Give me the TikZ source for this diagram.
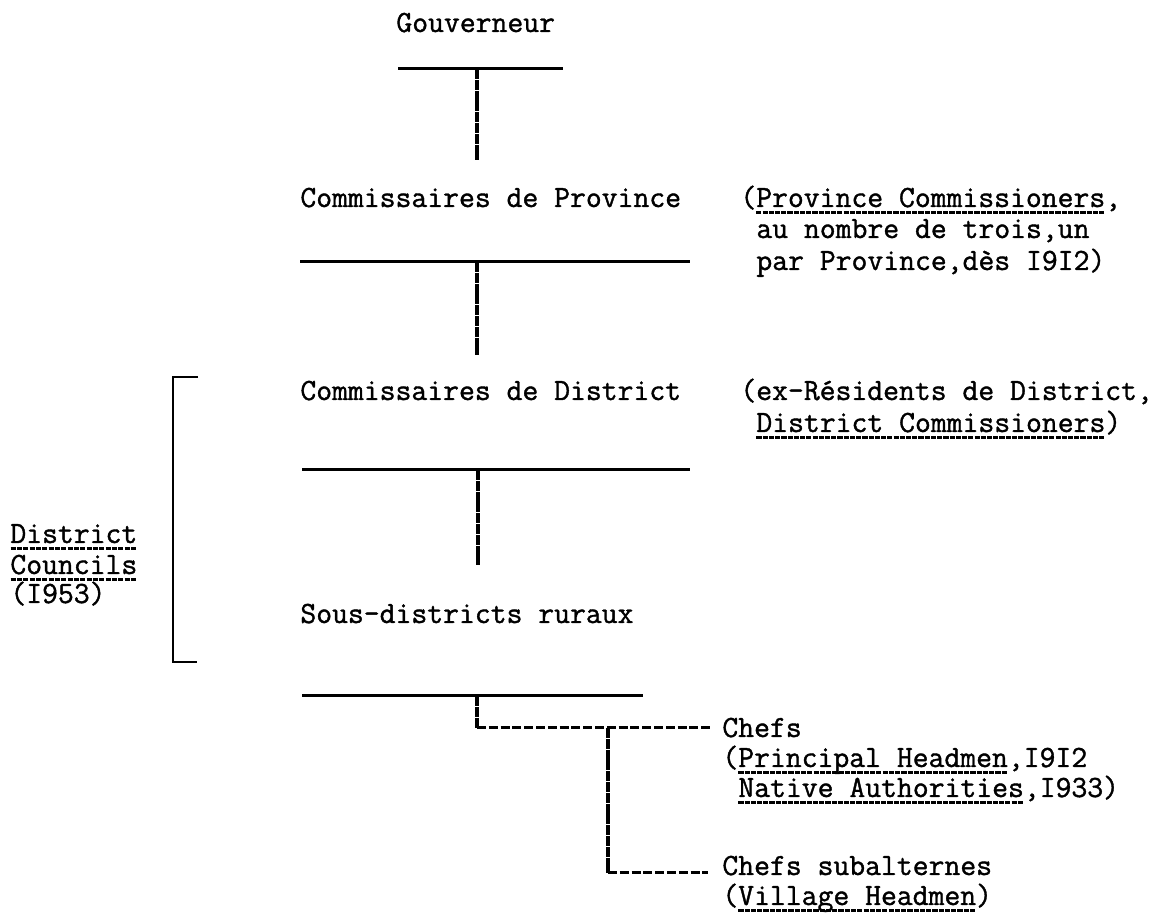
\documentclass[tikz,border=0pt]{standalone}
\usepackage{fontspec}
\setmonofont[FakeBold=1.2]{Latin Modern Mono}
\newsavebox\ulbox
\newcommand\dul[1]{\sbox\ulbox{#1}\rlap{\raisebox{-3.4pt}{\hbox to \wd\ulbox{\xleaders\hbox{\rule{2.6pt}{1.2pt}\kern0.5pt}\hfill}}}\usebox\ulbox}
\tikzset{
  lbl/.style={anchor=base west, inner sep=0pt, font=\fontsize{15.4}{18}\selectfont\ttfamily},
  bar/.style={line width=1.5pt},
  stem/.style={line width=1.7pt, dash pattern=on 5pt off 0.4pt},
  dsh/.style={line width=1.5pt, dash pattern=on 4.5pt off 1.4pt},
  brk/.style={line width=1.4pt},
}
\begin{document}
\begin{tikzpicture}[x=0.5pt,y=-0.5pt]
\useasboundingbox (0,0) rectangle (1175,924);
\fill[white] (0,0) rectangle (1175,924);

% main column
\node[lbl] (gouv) at (396,32) {Gouverneur};
\node[lbl] (prov) at (300,207) {Commissaires de Province};
\node[lbl] (dist) at (300,400) {Commissaires de District};
\node[lbl] (sous) at (300,623) {Sous-districts ruraux};

% right notes
\node[lbl] (pc1) at (740,207) {(\dul{Province Commissioners},};
\node[lbl] (pc2) at (756,238) {au nombre de trois,un};
\node[lbl] (pc3) at (756,270) {par Province,dès I9I2)};
\node[lbl] (dc1) at (740,400) {(ex-Résidents de District,};
\node[lbl] (dc2) at (756,432) {\dul{District Commissioners})};

% left bracket label
\node[lbl] (co1) at (10,543) {\dul{District}};
\node[lbl] (co2) at (10,574) {\dul{Councils}};
\node[lbl] (co3) at (10,603) {(I953)};

% chiefs
\node[lbl] (ch1) at (722,737) {Chefs};
\node[lbl] (ch2) at (722,767) {(\dul{Principal Headmen},I9I2};
\node[lbl] (ch3) at (738,797) {\dul{Native Authorities},I933)};
\node[lbl] (cs1) at (722,875) {Chefs subalternes};
\node[lbl] (cs2) at (722,905) {(\dul{Village Headmen})};

% bars and stems
\coordinate (b1l) at (398,69); \coordinate (b1r) at (563,69);
\coordinate (b1m) at (477,69); \coordinate (s1e) at (477,160);
\coordinate (b2l) at (300,262); \coordinate (b2r) at (690,262);
\coordinate (b2m) at (477,262); \coordinate (s2e) at (477,355);
\coordinate (b3l) at (302,470); \coordinate (b3r) at (690,470);
\coordinate (b3m) at (478,470); \coordinate (s3e) at (478,565);
\coordinate (b4l) at (302,696); \coordinate (b4r) at (643,696);
\coordinate (b4m) at (477,696); \coordinate (s4e) at (477,728);
\coordinate (h1e) at (710,728);
\coordinate (j1) at (608,728); \coordinate (j2) at (608,873);
\coordinate (h2e) at (708,873);

\draw[bar] (b1l) -- (b1r);
\draw[stem] (b1m) -- (s1e);
\draw[bar] (b2l) -- (b2r);
\draw[stem] (b2m) -- (s2e);
\draw[bar] (b3l) -- (b3r);
\draw[stem] (b3m) -- (s3e);
\draw[bar] (b4l) -- (b4r);
\draw[stem] (b4m) -- (s4e);
\draw[dsh] (s4e) -- (h1e);
\draw[stem] (j1) -- (j2);
\draw[dsh] (j2) -- (h2e);

% bracket
\coordinate (k1) at (198,377); \coordinate (k2) at (173,377);
\coordinate (k3) at (173,662); \coordinate (k4) at (197,662);
\draw[brk] (k1) -- (k2) -- (k3) -- (k4);
\end{tikzpicture}
\end{document}
